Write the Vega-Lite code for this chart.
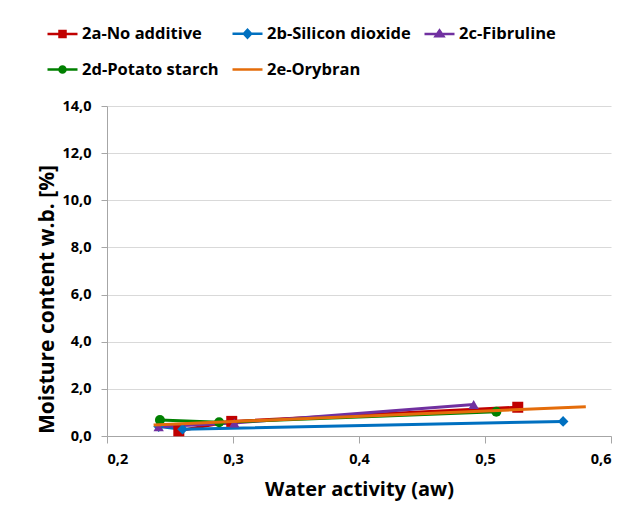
{
  "$schema": "https://vega.github.io/schema/vega-lite/v6.json",
  "width": 504,
  "height": 330,
  "autosize": "none",
  "padding": {"left": 107, "top": 106, "right": 20, "bottom": 75},
  "background": "white",
  "config": {
    "font": "Open Sans",
    "view": {"stroke": null},
    "axis": {"labelFont": "Open Sans", "labelFontWeight": "bold", "labelFontSize": 14.5, "labelColor": "#000000", "titleFont": "Open Sans", "titleFontWeight": "bold", "titleFontSize": 20, "titleColor": "#000000", "domainColor": "#a6a6a6", "tickColor": "#a6a6a6", "domainWidth": 1, "tickWidth": 1}
  },
  "data": {"values": [
    {"series": "2a-No additive", "aw": 0.257, "mc": 0.22},
    {"series": "2a-No additive", "aw": 0.299, "mc": 0.62},
    {"series": "2a-No additive", "aw": 0.526, "mc": 1.22},
    {"series": "2b-Silicon dioxide", "aw": 0.241, "mc": 0.40},
    {"series": "2b-Silicon dioxide", "aw": 0.260, "mc": 0.29},
    {"series": "2b-Silicon dioxide", "aw": 0.562, "mc": 0.62},
    {"series": "2c-Fibruline", "aw": 0.241, "mc": 0.39},
    {"series": "2c-Fibruline", "aw": 0.301, "mc": 0.55},
    {"series": "2c-Fibruline", "aw": 0.491, "mc": 1.34},
    {"series": "2d-Potato starch", "aw": 0.242, "mc": 0.68},
    {"series": "2d-Potato starch", "aw": 0.289, "mc": 0.58},
    {"series": "2d-Potato starch", "aw": 0.509, "mc": 1.03},
    {"series": "2e-Orybran", "aw": 0.237, "mc": 0.47},
    {"series": "2e-Orybran", "aw": 0.580, "mc": 1.24}
  ]},
  "encoding": {
    "x": {"field": "aw", "type": "quantitative", "scale": {"domain": [0.2, 0.6], "nice": false, "zero": false},
      "axis": {"title": "Water activity (aw)", "values": [0.2, 0.3, 0.4, 0.5, 0.6], "grid": false, "tickSize": 7, "labelPadding": 9,
        "labelExpr": "replace(format(datum.value, '.1f'), '.', ',')", "titleY": 53, "titleBaseline": "middle"}},
    "y": {"field": "mc", "type": "quantitative", "scale": {"domain": [0, 14], "nice": false},
      "axis": {"title": "Moisture content w.b. [%]", "values": [0, 2, 4, 6, 8, 10, 12, 14], "grid": true, "gridColor": "#d9d9d9", "tickSize": 6, "labelPadding": 10,
        "labelExpr": "replace(format(datum.value, '.1f'), '.', ',')", "titleX": -60, "titleY": 193, "titleBaseline": "middle", "titleAngle": -90, "titleFontSize": 21}},
    "color": {"field": "series", "type": "nominal",
      "scale": {"domain": ["2a-No additive", "2b-Silicon dioxide", "2c-Fibruline", "2d-Potato starch", "2e-Orybran"],
                "range": ["#C00000", "#0070C0", "#7030A0", "#008000", "#E46C0A"]},
      "legend": {"title": null, "orient": "none", "legendX": -61, "legendY": -89, "direction": "horizontal", "columns": 3,
        "labelFont": "Open Sans", "labelFontWeight": "bold", "labelFontSize": 16.5, "labelColor": "#000000", "labelLimit": 300,
        "symbolSize": 900, "labelOffset": 3, "columnPadding": 8, "rowPadding": 10, "symbolStrokeWidth": 2.5,
        "encode": {"symbols": {"update": {
          "shape": {"signal": "datum.value === '2a-No additive' ? 'M-1,0H1M-0.2,-0.2H0.2V0.2H-0.2Z' : datum.value === '2b-Silicon dioxide' ? 'M-1,0H1M0,-0.26L0.24,0L0,0.26L-0.24,0Z' : datum.value === '2c-Fibruline' ? 'M-1,0H1M0,-0.24L0.26,0.15H-0.26Z' : datum.value === '2d-Potato starch' ? 'M-1,0H1M0.2,0A0.2,0.2,0,1,1,-0.2,0A0.2,0.2,0,1,1,0.2,0Z' : 'M-1,0H1'"},
          "fill": {"signal": "scale('color', datum.value)"},
          "stroke": {"signal": "scale('color', datum.value)"},
          "strokeWidth": {"value": 2.5},
          "opacity": {"value": 1},
          "fillOpacity": {"value": 1}
        }}}}
    }
  },
  "layer": [
    {"transform": [{"filter": "datum.series !== '2e-Orybran'"}], "mark": {"type": "line", "strokeWidth": 3}, "encoding": {}},
    {"transform": [{"filter": "datum.series !== '2e-Orybran'"}], "mark": {"type": "point", "filled": true, "opacity": 1},
      "encoding": {
        "shape": {"field": "series", "type": "nominal", "legend": null,
          "scale": {"domain": ["2a-No additive", "2b-Silicon dioxide", "2c-Fibruline", "2d-Potato starch"], "range": ["square", "diamond", "triangle-up", "circle"]}},
        "size": {"field": "series", "type": "nominal", "legend": null,
          "scale": {"domain": ["2a-No additive", "2b-Silicon dioxide", "2c-Fibruline", "2d-Potato starch"], "range": [121, 100, 95, 100]}}
      }},
    {"transform": [{"filter": "datum.series === '2e-Orybran'"}], "mark": {"type": "line", "strokeWidth": 3}, "encoding": {}}
  ]
}
